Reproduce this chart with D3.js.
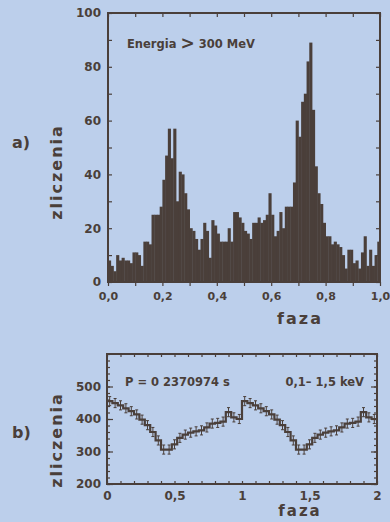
<!DOCTYPE html>
<html>
<head>
<meta charset="utf-8">
<script src="https://cdn.jsdelivr.net/npm/d3@7"></script>
<style>
  body { margin: 0; background: #bccfeb; }
  svg { display: block; }
  text { font-family: "DejaVu Sans", sans-serif; font-weight: bold; fill: #4a3f3a; }
</style>
</head>
<body>
<div id="chart"></div>
<script>
// a) histogram of gamma counts vs phase, 100 bins of 0.01
const histCounts = [
  8, 6, 4, 10, 8, 9, 8, 8, 7, 11,
  11, 10, 6, 15, 15, 14, 25, 25, 25, 28,
  38, 47, 57, 46, 57, 30, 41, 40, 33, 27,
  20, 19, 16, 12, 16, 22, 19, 9, 23, 21,
  18, 15, 15, 15, 20, 15, 26, 26, 24, 22,
  19, 18, 16, 22, 22, 24, 22, 23, 25, 33,
  25, 17, 19, 26, 20, 28, 28, 28, 37, 60,
  54, 67, 70, 82, 89, 64, 43, 33, 29, 22,
  17, 17, 14, 15, 14, 13, 10, 5, 12, 12,
  7, 8, 5, 11, 17, 6, 12, 6, 10, 15
];
const histTicks = [0, 20, 40, 60, 80, 100];
const histPhaseTicks = [0, 0.2, 0.4, 0.6, 0.8, 1.0];

// b) X-ray light curve, 25 bins per period, shown twice
const lcCounts = [
  455, 449, 442, 433, 424, 414, 398, 381, 360, 334,
  306, 306, 322, 342, 352, 358, 362, 365, 374, 386,
  388, 392, 421, 405, 400
];
const lcErrors = [
  14, 14, 14, 14, 14, 14, 14, 14, 14, 14,
  14, 14, 14, 14, 14, 14, 14, 14, 14, 14,
  14, 14, 14, 14, 14
];
const lcTicks = [200, 300, 400, 500];
const lcPhaseTicks = [0, 0.5, 1, 1.5, 2];

const ink = "#4a3f3a";
const comma = v => String(v).replace(".", ",");

const svg = d3.select("#chart").append("svg")
  .attr("width", 390).attr("height", 522);

// ---------- panel a ----------
const xa = d3.scaleLinear().domain([0, 1]).range([108, 380]);
const ya = d3.scaleLinear().domain([0, 100]).range([282, 13]);
const binW = 1 / histCounts.length;

const ga = svg.append("g");

ga.selectAll("rect.bar")
  .data(histCounts)
  .enter().append("rect")
  .attr("class", "bar")
  .attr("x", (d, i) => xa(i * binW))
  .attr("width", xa(binW) - xa(0) + 0.4)
  .attr("y", d => ya(d))
  .attr("height", d => ya(0) - ya(d))
  .attr("fill", ink);

// inward minor ticks on the frame
ga.append("g").attr("transform", `translate(${xa(0)},0)`)
  .call(d3.axisRight(ya).ticks(10).tickSize(4).tickFormat(""));
ga.append("g").attr("transform", `translate(${xa(1)},0)`)
  .call(d3.axisLeft(ya).ticks(10).tickSize(4).tickFormat(""));
ga.append("g").attr("transform", `translate(0,${ya(100)})`)
  .call(d3.axisBottom(xa).ticks(10).tickSize(4).tickFormat(""));
ga.append("g").attr("transform", `translate(0,${ya(0)})`)
  .call(d3.axisBottom(xa).ticks(10).tickSize(4).tickFormat(""));

// labels
ga.append("g").attr("transform", `translate(${xa(0) - 5},0)`)
  .call(d3.axisLeft(ya).tickValues(histTicks).tickSize(0).tickPadding(2))
  .call(g => g.selectAll("text").style("font-size", "12px"));
ga.append("g").attr("transform", `translate(0,${ya(0) + 8})`)
  .call(d3.axisBottom(xa).tickValues(histPhaseTicks).tickSize(0).tickPadding(2)
    .tickFormat(d => comma(d.toFixed(1))))
  .call(g => g.selectAll("text").style("font-size", "11px"));

ga.append("rect")
  .attr("x", xa(0)).attr("y", ya(100))
  .attr("width", xa(1) - xa(0)).attr("height", ya(0) - ya(100))
  .attr("fill", "none").attr("stroke", ink).attr("stroke-width", 2);

ga.append("text").attr("x", 127).attr("y", 48).style("font-size", "11.5px")
  .text("Energia ")
  .append("tspan").style("font-size", "17px").attr("dy", 1).text(">")
  .append("tspan").style("font-size", "11.5px").attr("dy", -1).text(" 300 MeV");

ga.append("text").attr("x", 300).attr("y", 324).attr("text-anchor", "middle")
  .style("font-size", "16px").style("letter-spacing", "2px").text("faza");
ga.append("text").attr("transform", "translate(62,172) rotate(-90)")
  .attr("text-anchor", "middle")
  .style("font-size", "16px").style("letter-spacing", "2px").text("zliczenia");
ga.append("text").attr("x", 12).attr("y", 148).style("font-size", "16px").text("a)");

// ---------- panel b ----------
const xb = d3.scaleLinear().domain([0, 2]).range([107, 377]);
const yb = d3.scaleLinear().domain([200, 600]).range([484, 354]);
const lcW = 1 / lcCounts.length;

const lc = d3.range(lcCounts.length * 2).map(i => ({
  x0: i * lcW,
  v: lcCounts[i % lcCounts.length],
  e: lcErrors[i % lcCounts.length]
}));
const stepPts = lc.map(d => [d.x0, d.v]).concat([[2, lc[lc.length - 1].v]]);

const gb = svg.append("g");

gb.append("g").attr("transform", `translate(${xb(0)},0)`)
  .call(d3.axisRight(yb).ticks(20).tickSize(3).tickFormat(""));
gb.append("g").attr("transform", `translate(${xb(0)},0)`)
  .call(d3.axisRight(yb).tickValues(lcTicks).tickSize(6).tickFormat(""));
gb.append("g").attr("transform", `translate(${xb(2)},0)`)
  .call(d3.axisLeft(yb).ticks(20).tickSize(3).tickFormat(""));
gb.append("g").attr("transform", `translate(${xb(2)},0)`)
  .call(d3.axisLeft(yb).tickValues(lcTicks).tickSize(6).tickFormat(""));
gb.append("g").attr("transform", `translate(0,${yb(600)})`)
  .call(d3.axisBottom(xb).ticks(20).tickSize(3).tickFormat(""));
gb.append("g").attr("transform", `translate(0,${yb(200)})`)
  .call(d3.axisTop(xb).ticks(20).tickSize(3).tickFormat(""));

gb.append("g").attr("transform", `translate(${xb(0) - 4},0)`)
  .call(d3.axisLeft(yb).tickValues(lcTicks).tickSize(0).tickPadding(2))
  .call(g => g.selectAll("text").style("font-size", "12px"));
gb.append("g").attr("transform", `translate(0,${yb(200) + 5})`)
  .call(d3.axisBottom(xb).tickValues(lcPhaseTicks).tickSize(0).tickPadding(2)
    .tickFormat(d => comma(d)))
  .call(g => g.selectAll("text").style("font-size", "12px"));

gb.selectAll(".domain").remove();
ga.selectAll(".domain").remove();
svg.selectAll(".tick line").attr("stroke", ink).attr("stroke-width", 1.2);

// error bars
const eb = gb.selectAll("g.err").data(lc).enter().append("g").attr("class", "err");
eb.append("line")
  .attr("x1", d => xb(d.x0 + lcW / 2)).attr("x2", d => xb(d.x0 + lcW / 2))
  .attr("y1", d => yb(d.v - d.e)).attr("y2", d => yb(d.v + d.e));
eb.append("line")
  .attr("x1", d => xb(d.x0 + lcW / 2) - 1.5).attr("x2", d => xb(d.x0 + lcW / 2) + 1.5)
  .attr("y1", d => yb(d.v + d.e)).attr("y2", d => yb(d.v + d.e));
eb.append("line")
  .attr("x1", d => xb(d.x0 + lcW / 2) - 1.5).attr("x2", d => xb(d.x0 + lcW / 2) + 1.5)
  .attr("y1", d => yb(d.v - d.e)).attr("y2", d => yb(d.v - d.e));
eb.selectAll("line").attr("stroke", ink).attr("stroke-width", 1);

gb.append("path")
  .datum(stepPts)
  .attr("d", d3.line().x(d => xb(d[0])).y(d => yb(d[1])).curve(d3.curveStepAfter))
  .attr("fill", "none").attr("stroke", ink).attr("stroke-width", 2.2);

gb.append("rect")
  .attr("x", xb(0)).attr("y", yb(600))
  .attr("width", xb(2) - xb(0)).attr("height", yb(200) - yb(600))
  .attr("fill", "none").attr("stroke", ink).attr("stroke-width", 2);

gb.append("text").attr("x", 125).attr("y", 386).style("font-size", "11.5px")
  .text("P = 0 2370974 s");
gb.append("text").attr("x", 364).attr("y", 386).attr("text-anchor", "end")
  .style("font-size", "11.5px").text("0,1\u2013 1,5 keV");

gb.append("text").attr("x", 300).attr("y", 516).attr("text-anchor", "middle")
  .style("font-size", "15px").style("letter-spacing", "2px").text("faza");
gb.append("text").attr("transform", "translate(62,440) rotate(-90)")
  .attr("text-anchor", "middle")
  .style("font-size", "16px").style("letter-spacing", "2px").text("zliczenia");
gb.append("text").attr("x", 12).attr("y", 438).style("font-size", "16px").text("b)");
</script>
</body>
</html>
